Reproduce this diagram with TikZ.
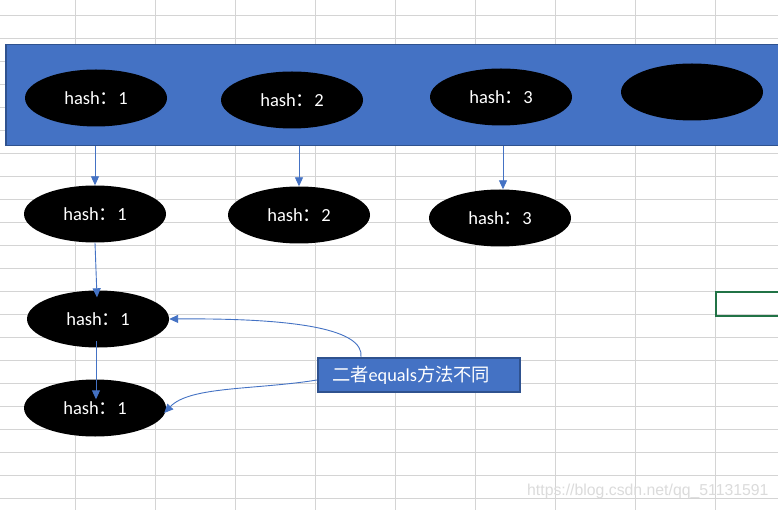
\documentclass[tikz,border=0pt]{standalone}
\usepackage{fontspec}
\setmainfont{Carlito}
\newfontfamily\cjk{Noto Sans CJK SC}
\newfontfamily\wmfont{Liberation Sans}
\usetikzlibrary{shapes.geometric,arrows.meta,calc}
\definecolor{xlblue}{HTML}{4472C4}
\definecolor{xlborder}{HTML}{2F528F}
\definecolor{gridgray}{HTML}{D4D4D4}
\definecolor{xlgreen}{HTML}{217346}
\tikzset{
  gridline/.style={draw=gridgray, line width=1pt},
  bar/.style={draw=xlborder, fill=xlblue, line width=1.5pt},
  hashnode/.style={ellipse, fill=black, text=white, minimum width=142pt, minimum height=57pt, inner sep=0pt, font=\fontsize{18.5}{21}\selectfont},
  conn/.style={draw=xlblue, line width=0.9pt, -{Triangle[width=8pt,length=9pt]}},
  notebox/.style={draw=xlborder, fill=xlblue, line width=2pt, text=white, minimum height=34pt, text width=174pt, inner xsep=14pt, inner ysep=0pt, align=left, font=\fontsize{18.3}{21}\selectfont},
}
\begin{document}
\begin{tikzpicture}[x=1pt,y=-1pt]
\useasboundingbox (0,0) rectangle (778,510);
\clip (0,0) rectangle (778,510);
\fill[white] (0,0) rectangle (778,510);
% spreadsheet grid
\foreach \x in {75.5,155.5,235.5,315.5,395.5,475.5,555.5,635.5,715.5}
  \draw[gridline] (\x,0) -- (\x,510);
\foreach \i in {0,...,21}
  \draw[gridline] (0,{15.3+23*\i}) -- (778,{15.3+23*\i});
% watermark
\node[text=gray!28, font=\wmfont\fontsize{15.8}{18}\selectfont, anchor=west, inner sep=0pt] (wm) at (527,491) {https://blog.csdn.net/qq\_51131591};
% selected cell
\node[draw=xlgreen, line width=2pt, minimum width=80pt, minimum height=24pt, anchor=north west, inner sep=0pt] (cell) at (715,291) {};
% blue bar
\node[bar, minimum width=800pt, minimum height=101pt, anchor=north west, inner sep=0pt] (bar) at (5,44) {};
% top row
\node[hashnode] (e1) at (96,98) {hash{\cjk ：}1};
\node[hashnode] (e2) at (292,100) {hash{\cjk ：}2};
\node[hashnode] (e3) at (501,97) {hash{\cjk ：}3};
\node[hashnode] (e4) at (692,92) {};
% second row
\node[hashnode] (f1) at (95,214) {hash{\cjk ：}1};
\node[hashnode] (f2) at (299,215) {hash{\cjk ：}2};
\node[hashnode] (f3) at (500,218) {hash{\cjk ：}3};
% chain
\node[hashnode] (g3) at (98,319) {hash{\cjk ：}1};
\node[hashnode] (g4) at (95,408) {hash{\cjk ：}1};
% note
\node[notebox] (note) at (419,375) {{\cjk 二者}equals{\cjk 方法不同}};
% connectors
\draw[conn] (bar.south -| f1) -- (f1.north);
\draw[conn] (bar.south -| f2) -- (f2.north);
\draw[conn] ($(bar.south -| f3)+(3,0)$) -- ($(f3.north)+(3,0)$);
\draw[conn] (f1.south) -- ($(g3.north)+(-1,7)$);
\draw[conn] ($(g3.center)+(-2,22)$) -- ($(g4.north)+(1,20)$);
\draw[conn] ($(note.north west)+(44,0)$) .. controls (364,330) and (300,318) .. (g3.east);
\draw[conn] ($(note.west)+(0,5)$) .. controls (255,390) and (190,386) .. ($(g4.east)+(-2,5)$);
\end{tikzpicture}
\end{document}
